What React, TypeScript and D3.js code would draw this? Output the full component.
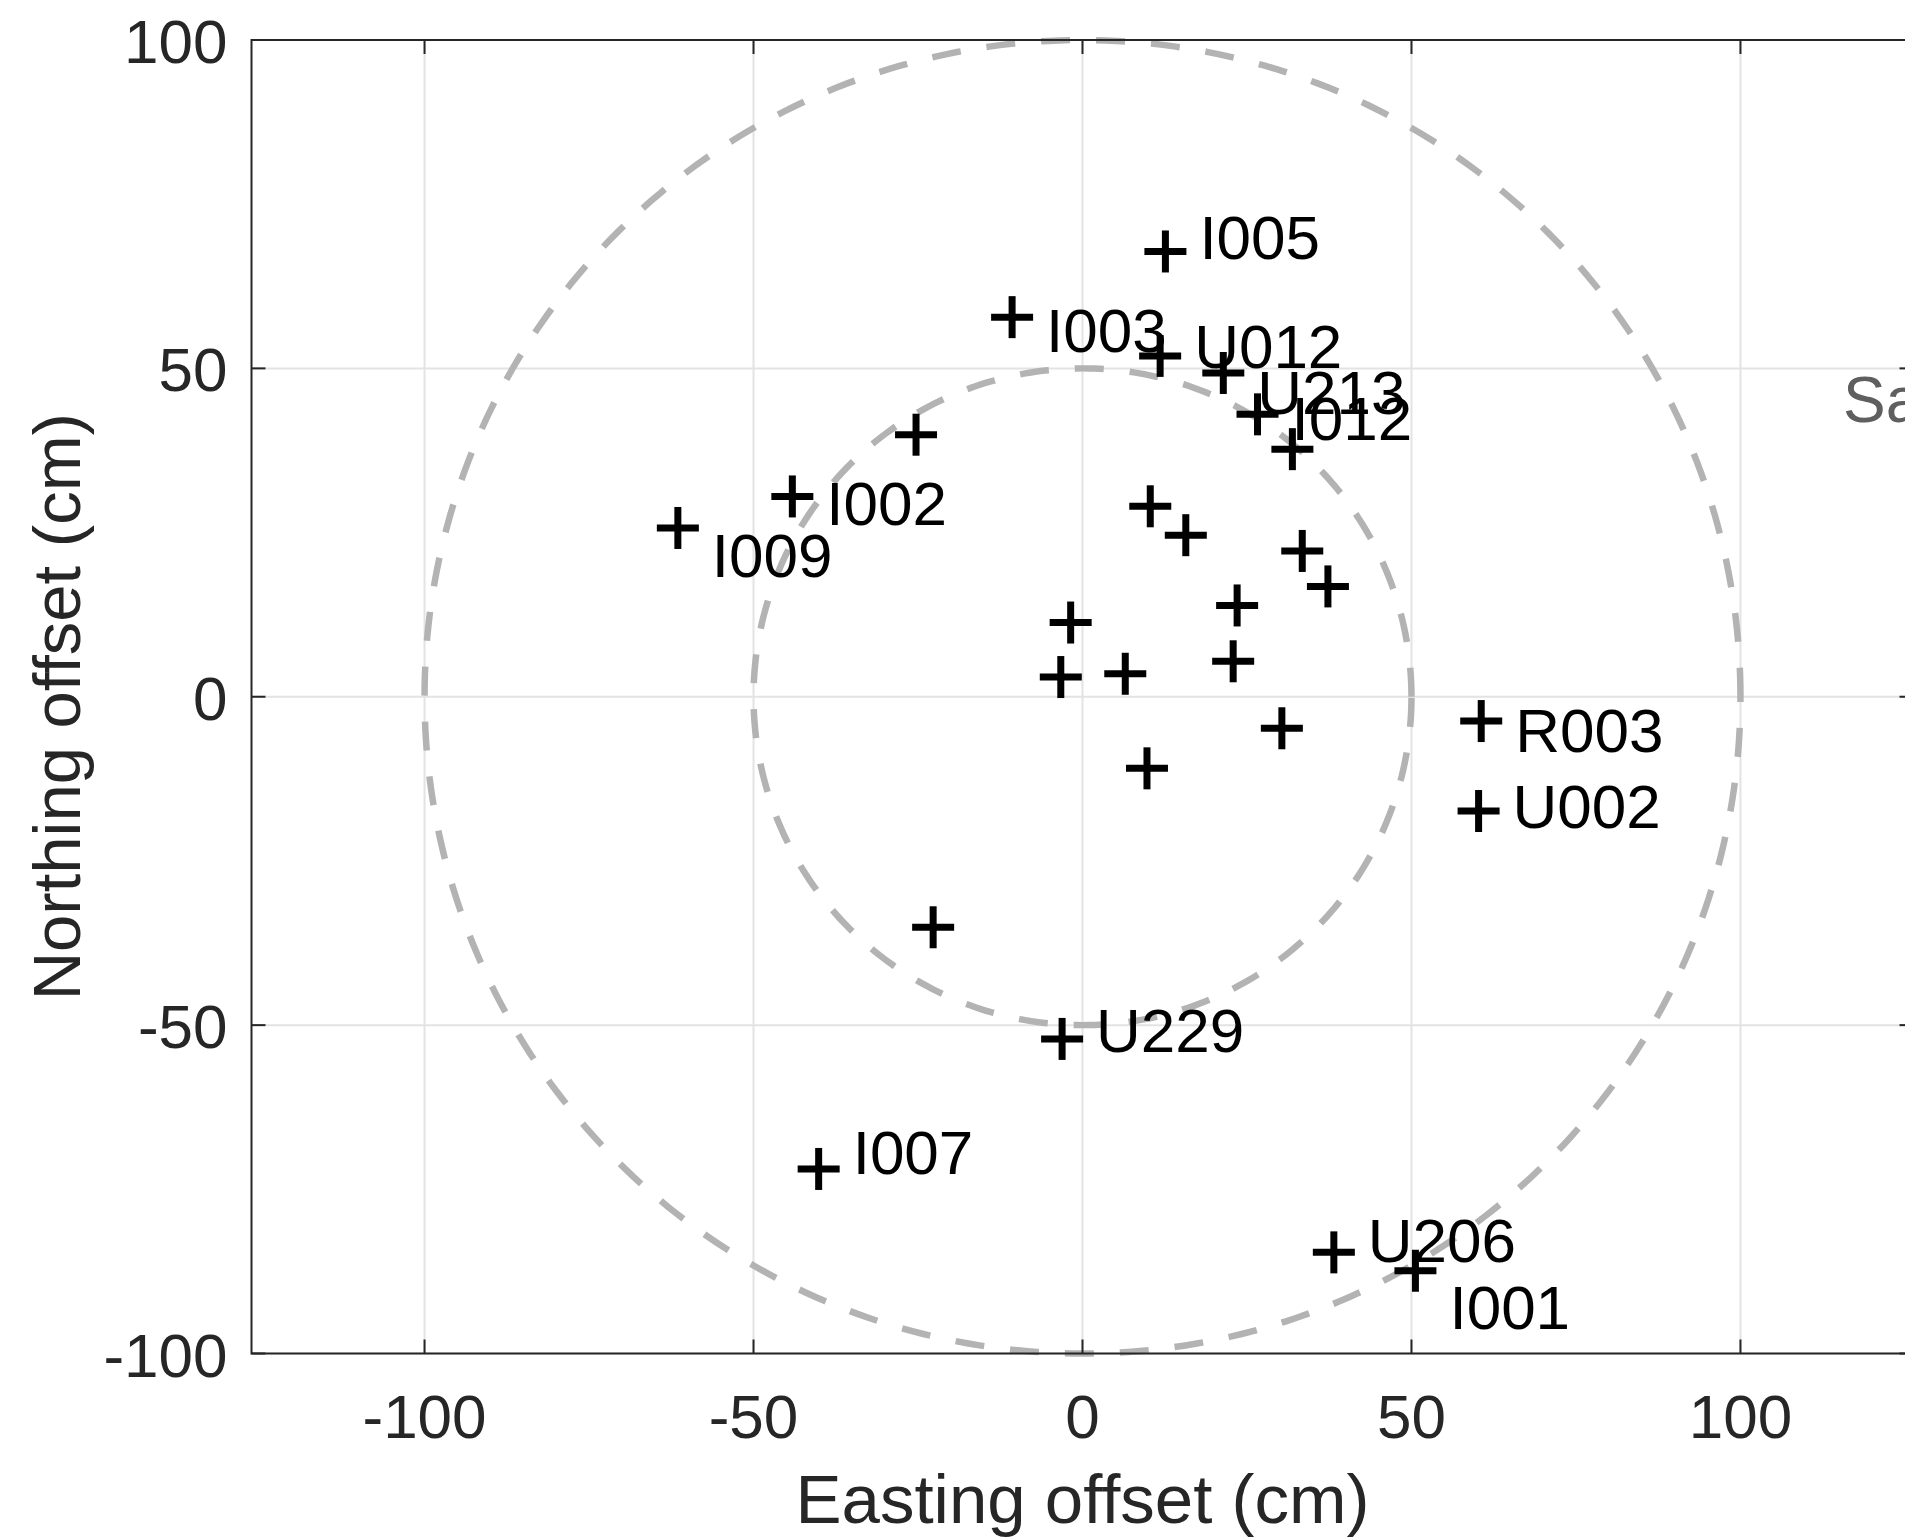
import React from "react";
import * as d3 from "d3";

// ---- data ----
const EAST = [12.6, -10.7, 11.8, 21.4, 26.6, 31.9, -25.3, -44.1, -61.5, 10.3, 15.7, 33.4, 37.3, -1.8, 23.5, 22.9, -3.3, 6.5, 30.3, 9.8, 60.6, 60.2, -22.7, -3.1, -40.1, 38.2, 50.6];
const NORTH = [67.8, 57.8, 51.9, 49.3, 43.0, 37.7, 39.9, 30.5, 25.7, 29.0, 24.6, 22.2, 16.8, 11.3, 13.9, 5.4, 3.0, 3.5, -4.8, -10.9, -3.7, -17.4, -35.1, -52.1, -71.9, -84.6, -87.4];
const NAMES = ["I005", "I003", "U012", "U213", "I012", "", "", "I002", "I009", "", "", "", "", "", "", "", "", "", "", "", "R003", "U002", "", "U229", "I007", "U206", "I001"];
// vertical offset of each label's centre from its marker (px)
const LABEL_DY = [-14, 13, -10, 19, 4, 0, 0, 7, 27, 0, 0, 0, 0, 0, 0, 0, 0, 0, 0, 0, 9, -5, 0, -9, -17, -12, 36];
const RADII = [50, 100];
const X_TICKS = [-100, -50, 0, 50, 100];
const Y_TICKS = [-100, -50, 0, 50, 100];
const X_DOMAIN = [-126.3, 126.3];
const Y_DOMAIN = [-100, 100];
const X_LABEL = "Easting offset (cm)";
const Y_LABEL = "Northing offset (cm)";
const NOTE = { text: "Sa", x: 115.6, y: 41.8 };

const W = 1905;
const H = 1537;
const FONT = "'Liberation Sans', Arial, Helvetica, sans-serif";

export default function App() {
  const left = 251.5, right = 1913.5, top = 40, bottom = 1353.5;
  const x = d3.scaleLinear().domain(X_DOMAIN).range([left, right]);
  const y = d3.scaleLinear().domain(Y_DOMAIN).range([bottom, top]);

  const tickFs = 62;
  const labelFs = 69;
  const tickLen = 14;
  const axisColor = "#262626";
  const gridColor = "#e3e3e3";

  const circlePath = (r: number) => {
    const angles = d3.range(0, 361, 1).map((a) => (a * Math.PI) / 180);
    const line = d3
      .line<number>()
      .x((t) => x(r * Math.cos(t)))
      .y((t) => y(r * Math.sin(t)));
    return line(angles) || "";
  };

  const arm = 21;

  return (
    <svg
      width={W}
      height={H}
      style={{ position: "absolute", left: 0, top: 0, background: "#fff" }}
      fontFamily={FONT}
    >
      <rect x={0} y={0} width={W} height={H} fill="#fff" />
      {/* grid */}
      <g stroke={gridColor} strokeWidth={2}>
        {X_TICKS.map((t) => (
          <line key={"gx" + t} x1={x(t)} x2={x(t)} y1={top} y2={bottom} />
        ))}
        {Y_TICKS.map((t) => (
          <line key={"gy" + t} x1={left} x2={right} y1={y(t)} y2={y(t)} />
        ))}
      </g>
      {/* circles */}
      <g fill="none" stroke="#b3b3b3" strokeWidth={6.5} strokeDasharray="29 26">
        {RADII.map((r) => (
          <path key={"c" + r} d={circlePath(r)} />
        ))}
      </g>
      {/* axes box & ticks */}
      <g stroke={axisColor} strokeWidth={2} fill="none">
        <rect x={left} y={top} width={right - left} height={bottom - top} />
        {X_TICKS.map((t) => (
          <g key={"tx" + t}>
            <line x1={x(t)} x2={x(t)} y1={bottom} y2={bottom - tickLen} />
            <line x1={x(t)} x2={x(t)} y1={top} y2={top + tickLen} />
          </g>
        ))}
        {Y_TICKS.map((t) => (
          <g key={"ty" + t}>
            <line x1={left} x2={left + tickLen} y1={y(t)} y2={y(t)} />
            <line x1={right} x2={right - tickLen} y1={y(t)} y2={y(t)} />
          </g>
        ))}
      </g>
      {/* tick labels */}
      <g fill={axisColor} fontSize={tickFs}>
        {X_TICKS.map((t) => (
          <text key={"lx" + t} textAnchor="middle" x={x(t)} y={bottom + 84}>
            {t}
          </text>
        ))}
        {Y_TICKS.map((t) => (
          <text key={"ly" + t} textAnchor="end" x={left - 24} y={y(t) + 23}>
            {t}
          </text>
        ))}
      </g>
      {/* axis labels */}
      <g fill={axisColor}>
        <text textAnchor="middle" fontSize={labelFs} x={(left + right) / 2} y={1523}>
          {X_LABEL}
        </text>
        <text
          textAnchor="middle"
          fontSize={67}
          transform={`translate(${80},${(top + bottom) / 2 + 10}) rotate(-90)`}
        >
          {Y_LABEL}
        </text>
      </g>
      {/* note */}
      <text fill="#5f5f5f" fontSize={64} x={x(NOTE.x)} y={y(NOTE.y)}>
        {NOTE.text}
      </text>
      {/* markers */}
      <g stroke="#000" strokeWidth={7}>
        {EAST.map((e, i) => {
          const cx = x(e);
          const cy = y(NORTH[i]);
          return (
            <g key={"m" + i}>
              <line x1={cx - arm} x2={cx + arm} y1={cy} y2={cy} />
              <line x1={cx} x2={cx} y1={cy - arm} y2={cy + arm} />
            </g>
          );
        })}
      </g>
      {/* point labels */}
      <g fill="#000" fontSize={tickFs}>
        {EAST.map((e, i) =>
          NAMES[i] ? (
            <text key={"pl" + i} x={x(e) + 34} y={y(NORTH[i]) + LABEL_DY[i] + 22}>
              {NAMES[i]}
            </text>
          ) : null
        )}
      </g>
    </svg>
  );
}
